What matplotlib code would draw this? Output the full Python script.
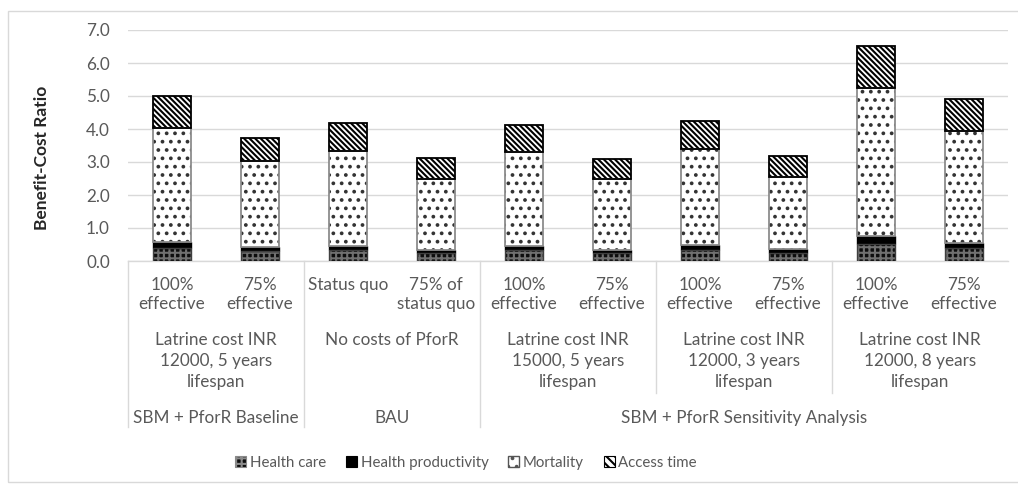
import matplotlib.pyplot as plt
import matplotlib as mpl
from matplotlib.patches import Rectangle, Patch
import numpy as np

# Benefit-cost ratio components per scenario (stacked bottom to top)
health_care = [0.40, 0.30, 0.32, 0.23, 0.32, 0.23, 0.34, 0.25, 0.52, 0.38]
health_productivity = [0.18, 0.13, 0.13, 0.10, 0.13, 0.09, 0.14, 0.10, 0.23, 0.17]
mortality = [3.44, 2.59, 2.89, 2.17, 2.85, 2.15, 2.90, 2.20, 4.49, 3.39]
access_time = [0.98, 0.72, 0.83, 0.62, 0.81, 0.62, 0.86, 0.64, 1.28, 0.96]
series_names = ["Health care", "Health productivity", "Mortality", "Access time"]

# Category axis labels, innermost level first
scenario_labels = ["100%\neffective", "75%\neffective", "Status quo", "75% of\nstatus quo",
                   "100%\neffective", "75%\neffective", "100%\neffective", "75%\neffective",
                   "100%\neffective", "75%\neffective"]
cost_labels = ["Latrine cost INR\n12000, 5 years\nlifespan", "No costs of PforR",
               "Latrine cost INR\n15000, 5 years\nlifespan", "Latrine cost INR\n12000, 3 years\nlifespan",
               "Latrine cost INR\n12000, 8 years\nlifespan"]
cost_spans = [2, 2, 2, 2, 2]
program_labels = ["SBM + PforR Baseline", "BAU", "SBM + PforR Sensitivity Analysis"]
program_spans = [2, 2, 6]

TXT = "#595959"
GRID = "#d9d9d9"
FS = 12.3

mpl.rcParams['hatch.linewidth'] = 1.5
mpl.rcParams['font.family'] = "Lato"

fig = plt.figure(figsize=(10.18, 4.88), dpi=100)
ax = fig.add_axes([128 / 1018, 1 - 261 / 488, 880 / 1018, 231 / 488])

# outer chart border
fig.patches.append(Rectangle((8 / 1018, 6 / 488), 1.2, 1 - 17 / 488, transform=fig.transFigure,
                             fill=False, edgecolor=GRID, linewidth=1.0, zorder=0))

x = np.arange(len(health_care))
w = 0.43
hc = np.array(health_care)
hp = np.array(health_productivity)
mo = np.array(mortality)
at = np.array(access_time)

# hatched fills (hatch colour follows edgecolor), then outlines drawn separately
ax.bar(x, hc, w, color="#0d0d0d", edgecolor="#707070", hatch="+++", linewidth=0, zorder=3)
ax.bar(x, hc, w, fill=False, edgecolor="#404040", linewidth=1.0, zorder=4)
ax.bar(x, hp, w, bottom=hc, color="black", edgecolor="black", linewidth=1.0, zorder=3)
ax.bar(x, mo, w, bottom=hc + hp, color="white", edgecolor="#333333", hatch="..", linewidth=0, zorder=3)
ax.bar(x, mo, w, bottom=hc + hp, fill=False, edgecolor="#8c8c8c", linewidth=1.3, zorder=4)
ax.bar(x, at, w, bottom=hc + hp + mo, color="white", edgecolor="black", hatch="\\" * 6,
       linewidth=0, zorder=3)
ax.bar(x, at, w, bottom=hc + hp + mo, fill=False, edgecolor="black", linewidth=1.3, zorder=4)

ax.set_xlim(-0.5, len(x) - 0.5)
ax.set_ylim(0, 7)
ax.set_yticks(np.arange(0, 7.01, 1.0))
ax.set_yticklabels([f"{v:.1f}" for v in np.arange(0, 7.01, 1.0)], color=TXT, fontsize=FS)
ax.tick_params(axis="y", length=0, pad=13)
ax.set_xticks([])
ax.yaxis.grid(True, color=GRID, linewidth=1.0, zorder=0)
ax.set_axisbelow(True)
for s in ["top", "right", "left"]:
    ax.spines[s].set_visible(False)
ax.spines["bottom"].set_color(GRID)
ax.spines["bottom"].set_linewidth(1.0)

fig.text(42 / 1018, 1 - 158 / 488, "Benefit-Cost Ratio", rotation=90, ha="center", va="center",
         fontsize=12.5, fontweight="bold", color="#262626")

# multi-level category labels
xt = ax.get_xaxis_transform()
for i, lab in enumerate(scenario_labels):
    ax.annotate(lab, (x[i], 0), xycoords=xt, xytext=(0, -16), textcoords="offset pixels",
                ha="center", va="top", fontsize=FS, color=TXT, linespacing=1.25)

pos = 0
for lab, n in zip(cost_labels, cost_spans):
    c = pos + (n - 1) / 2
    ax.annotate(lab, (c, 0), xycoords=xt, xytext=(0, -71), textcoords="offset pixels",
                ha="center", va="top", fontsize=FS, color=TXT, linespacing=1.38)
    pos += n

pos = 0
for lab, n in zip(program_labels, program_spans):
    c = pos + (n - 1) / 2
    ax.annotate(lab, (c, 0), xycoords=xt, xytext=(0, -157), textcoords="offset pixels",
                ha="center", va="center", fontsize=FS, color=TXT)
    pos += n

# separators between groups
long_y = -166 / 231
short_y = -132 / 231
outer = [-0.5] + list(np.cumsum(program_spans)[:-1] - 0.5)
inner = [b - 0.5 for b in np.cumsum(cost_spans)[:-1] if (b - 0.5) not in outer]
for b in outer:
    ax.plot([b, b], [0, long_y], transform=xt, color=GRID, linewidth=1.0, clip_on=False)
for b in inner:
    ax.plot([b, b], [0, short_y], transform=xt, color=GRID, linewidth=1.0, clip_on=False)

# legend swatches with outlines
handles = [
    Patch(facecolor="#0d0d0d", edgecolor="#8a8a8a", hatch="+++", linewidth=0.8),
    Patch(facecolor="black", edgecolor="black", linewidth=0.8),
    Patch(facecolor="white", edgecolor="#555555", hatch="..", linewidth=1.0),
    Patch(facecolor="white", edgecolor="black", hatch="\\" * 4, linewidth=0.8),
]
fig.legend(handles, series_names,
           loc="center", bbox_to_anchor=(466 / 1018, 1 - 463 / 488), ncol=4, frameon=False,
           fontsize=10.8, handlelength=0.75, handleheight=0.75, handletextpad=0.25,
           columnspacing=1.3, labelcolor=TXT)

fig.savefig("out.png", dpi=100)
